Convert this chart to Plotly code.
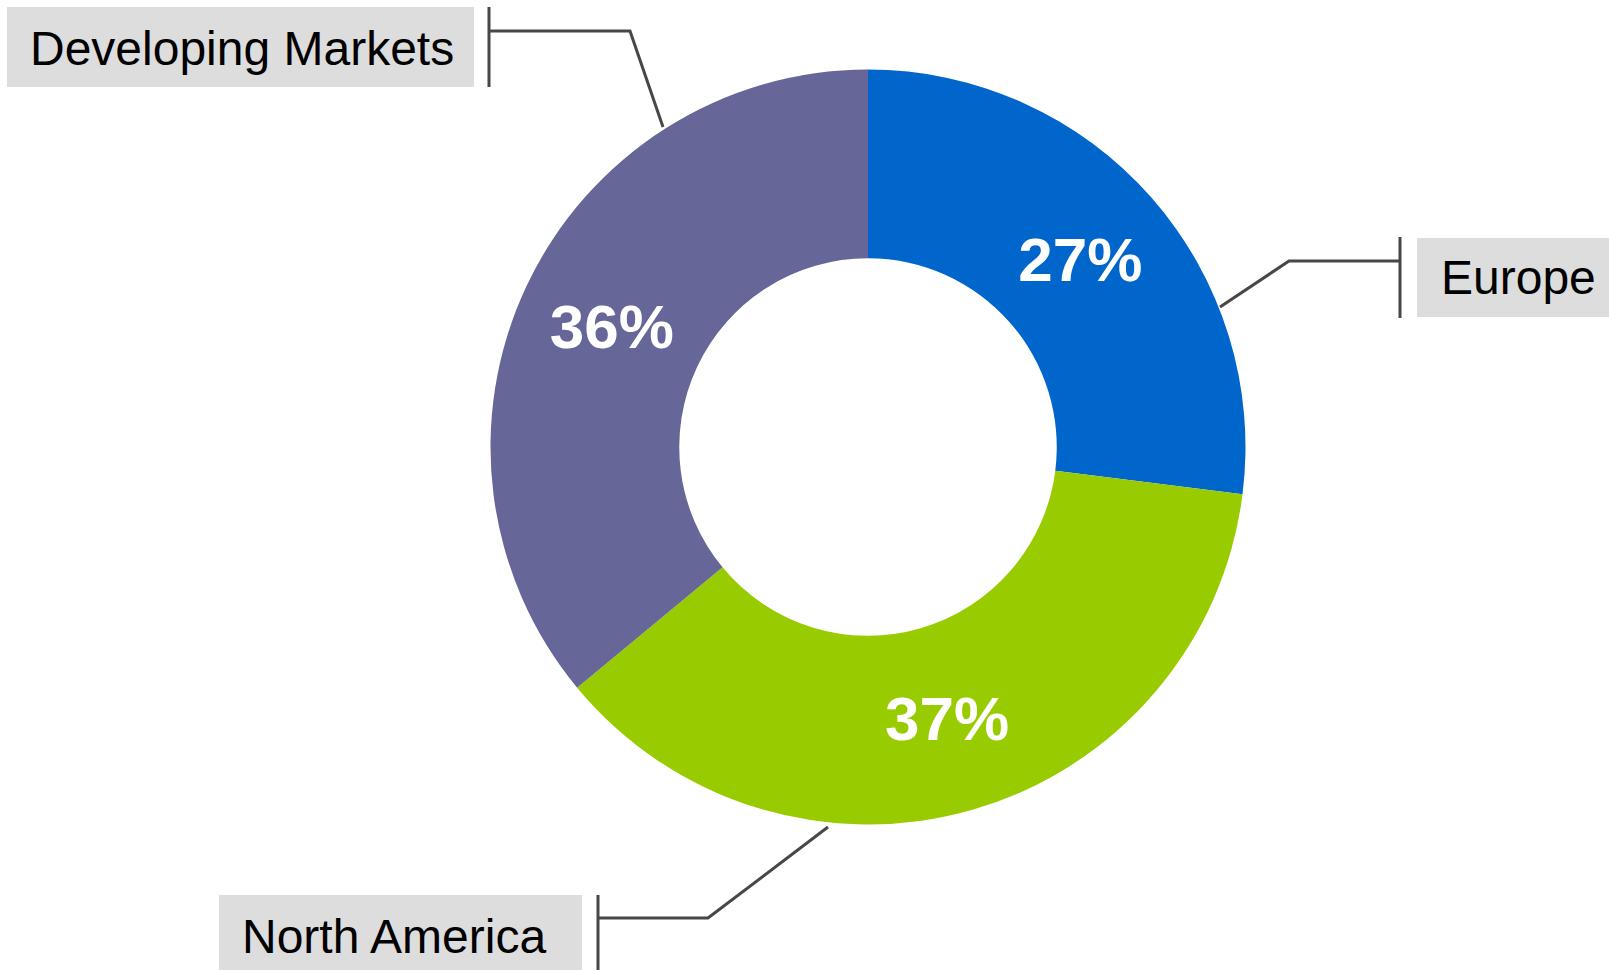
import plotly.graph_objects as go

# Regional split of the business
regions = ["Europe", "North America", "Developing Markets"]
shares = [27, 37, 36]
slice_colors = ["#0066CC", "#99CC00", "#666699"]

FONT = "Liberation Sans"
W, H = 1609, 970


def px(x):
    return x / W


def py(y):
    return 1 - y / H


# Donut placement (pixel centre and outer radius)
cx, cy, R = 868, 447, 377.5

fig = go.Figure(
    go.Pie(
        labels=regions,
        values=shares,
        sort=False,
        direction="clockwise",
        rotation=0,
        hole=0.5,
        marker=dict(colors=slice_colors, line=dict(width=0)),
        textinfo="percent",
        textposition="inside",
        insidetextorientation="horizontal",
        textfont=dict(family=FONT, size=62, color="white", weight="bold"),
        showlegend=False,
        hoverinfo="label+percent",
        domain=dict(x=[px(cx - R), px(cx + R)], y=[py(cy + R), py(cy - R)]),
    )
)

# Callout boxes: (text, box left, top, right, bottom, text x, text y)
callouts = [
    ("Developing Markets", 7, 7, 474, 87, 28, 48),
    ("Europe", 1417, 238, 1609, 317, 1439, 277),
    ("North America", 219, 895, 582, 975, 240, 936),
]

# Leader lines: end bar x, bar top, bar bottom, elbow (x, y), tip on ring (x, y)
leaders = [
    (489, 7, 87, (630, 31), (663, 127)),
    (1400, 237, 318, (1289, 261), (1220, 307)),
    (598, 895, 975, (708, 918), (828, 827)),
]

shapes = []
annotations = []
for text, x0, y0, x1, y1, tx, ty in callouts:
    shapes.append(dict(type="rect", xref="paper", yref="paper",
                       x0=px(x0), x1=px(x1), y0=py(y1), y1=py(y0),
                       fillcolor="#DDDDDD", line=dict(width=0), layer="below"))
    annotations.append(dict(text=text, xref="paper", yref="paper",
                            x=px(tx), y=py(ty), xanchor="left", yanchor="middle",
                            showarrow=False,
                            font=dict(family=FONT, size=48, color="black")))

line_style = dict(color="#474747", width=3)
for bx, btop, bbot, (ex, ey), (tx, ty) in leaders:
    shapes.append(dict(type="line", xref="paper", yref="paper",
                       x0=px(bx), x1=px(bx), y0=py(btop), y1=py(bbot), line=line_style))
    path = f"M {px(bx)},{py(ey)} L {px(ex)},{py(ey)} L {px(tx)},{py(ty)}"
    shapes.append(dict(type="path", xref="paper", yref="paper", path=path, line=line_style))

fig.update_layout(
    width=W,
    height=H,
    margin=dict(l=0, r=0, t=0, b=0),
    paper_bgcolor="white",
    plot_bgcolor="white",
    font=dict(family=FONT),
    shapes=shapes,
    annotations=annotations,
)

fig.write_html("out.html")
